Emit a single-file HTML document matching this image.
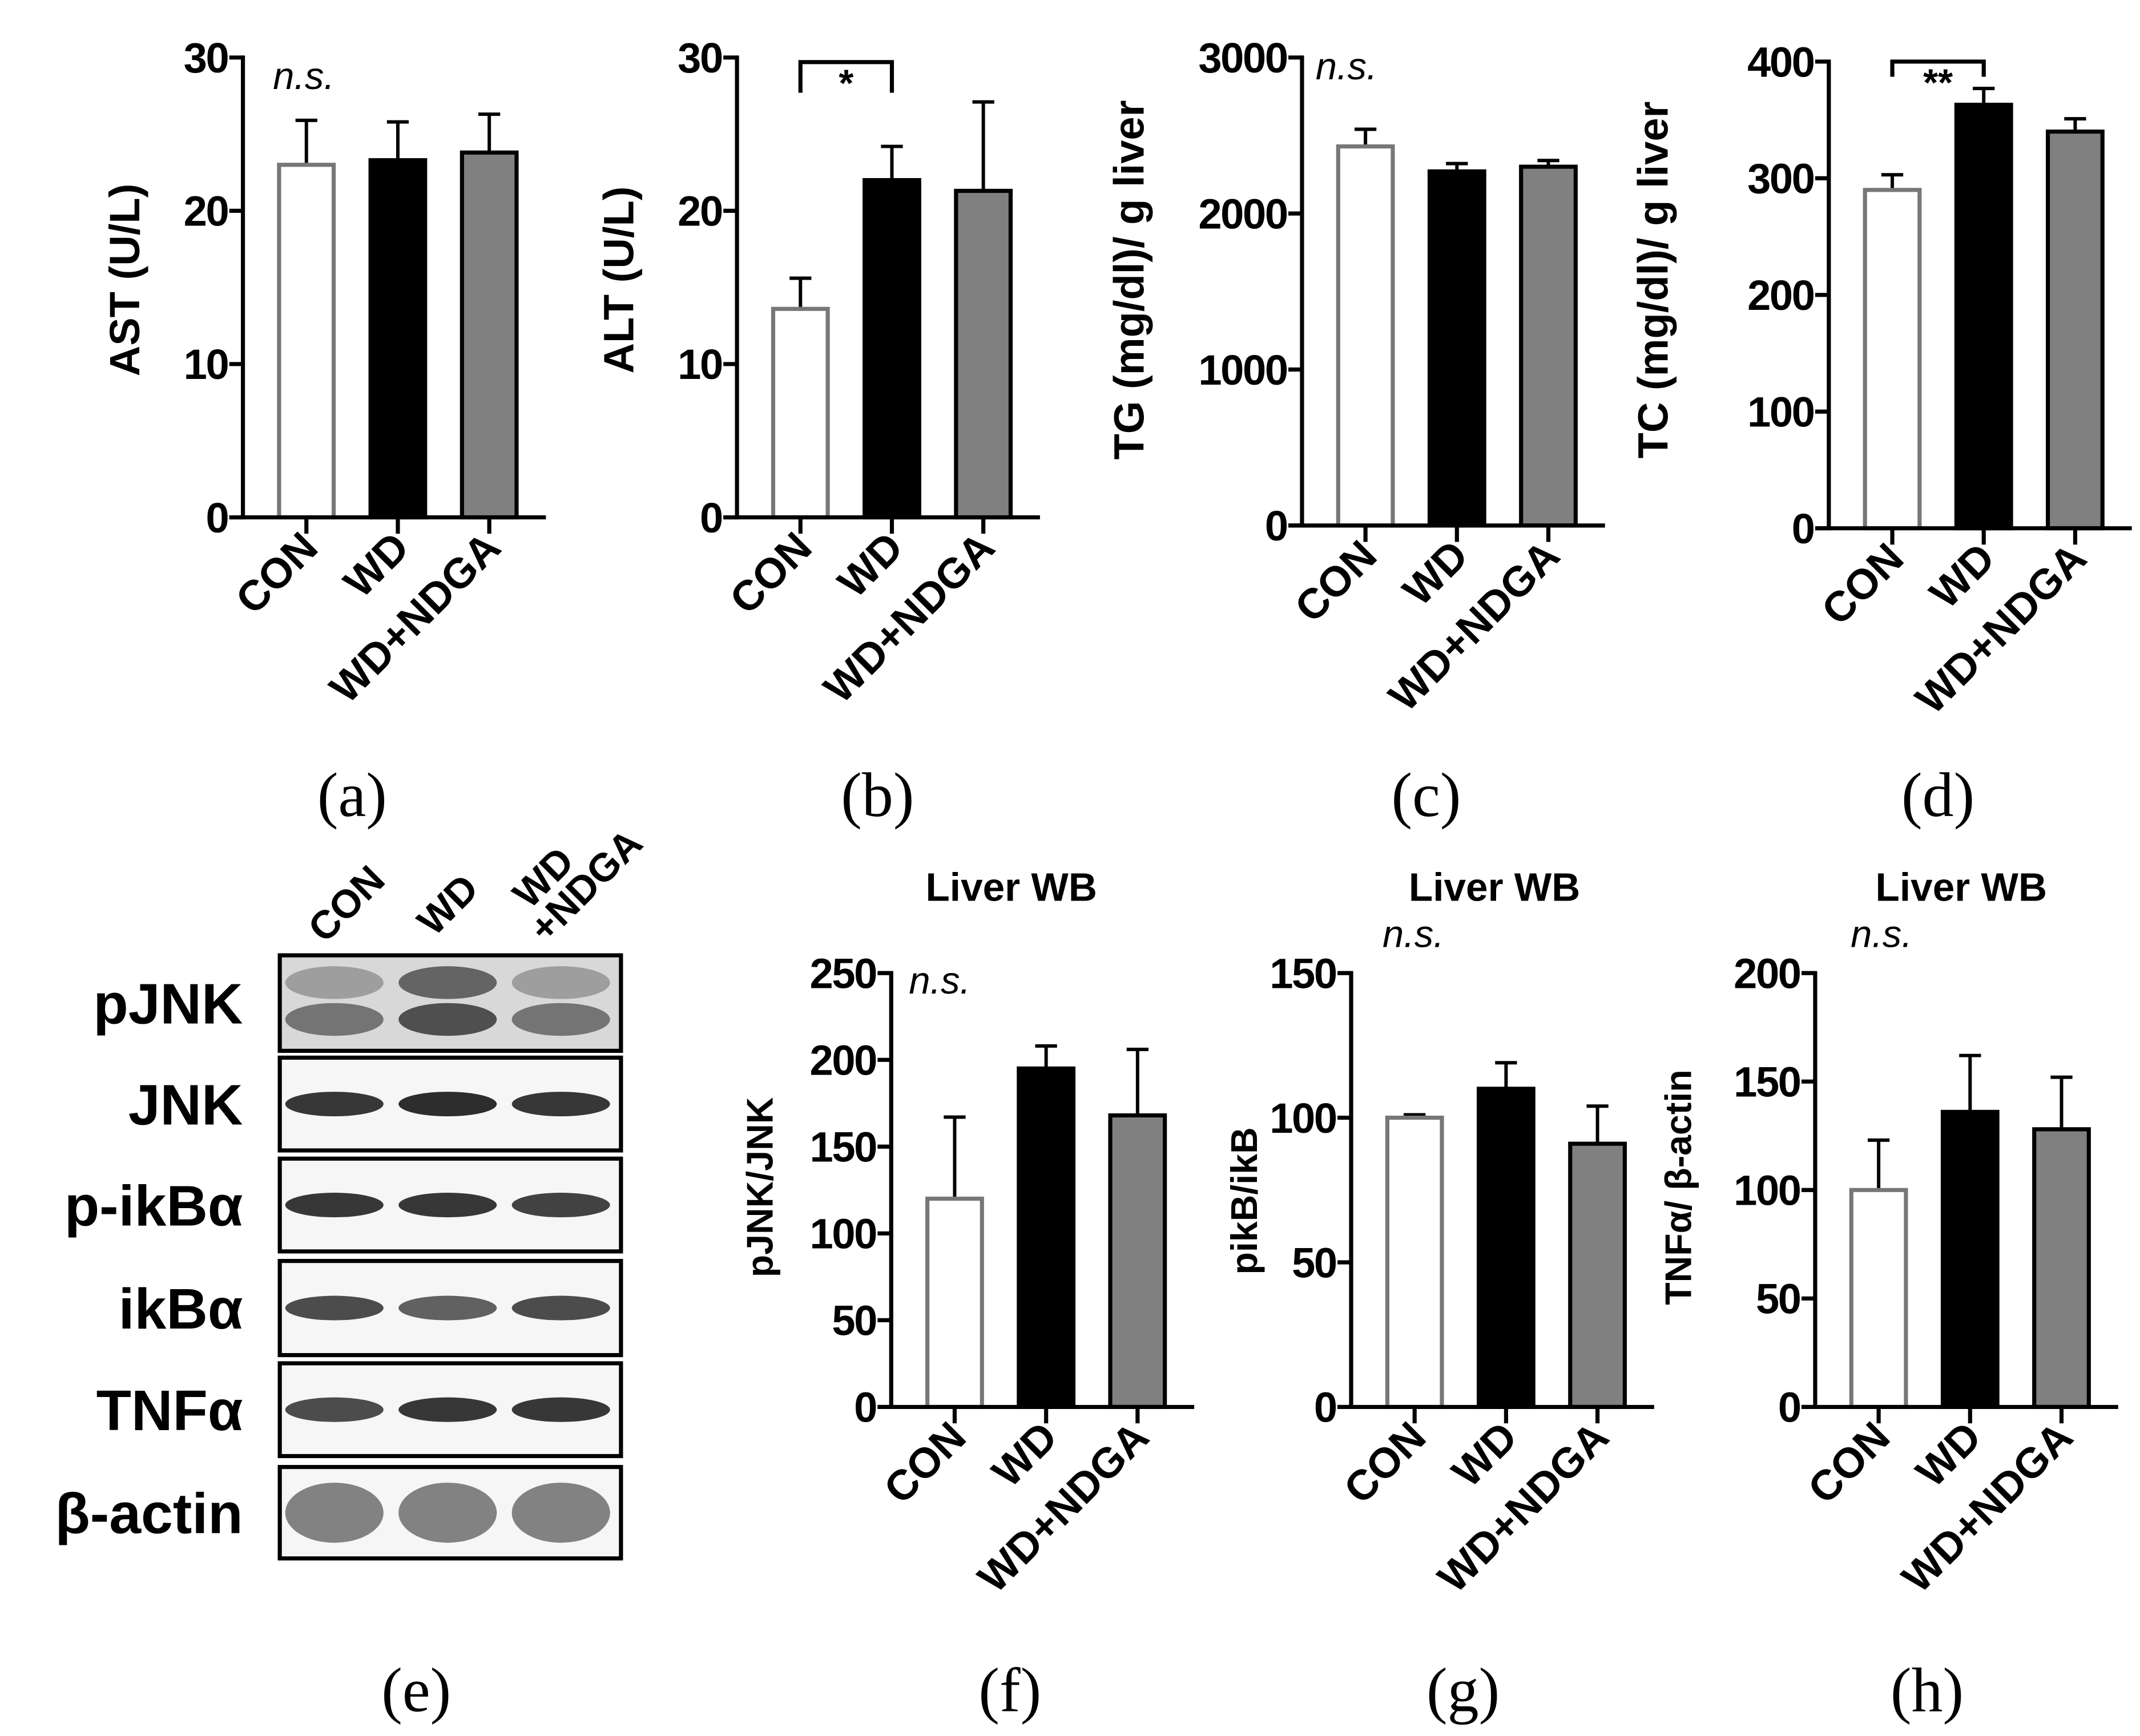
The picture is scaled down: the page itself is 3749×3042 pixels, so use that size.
<!DOCTYPE html>
<html><head><meta charset="utf-8"><style>
html,body{margin:0;padding:0;background:#fff}
svg{display:block}
text{font-family:"Liberation Sans",Arial,sans-serif}
</style></head><body>
<svg id="fig" width="3749" height="3042" viewBox="0 0 1568 1272" xmlns="http://www.w3.org/2000/svg">
<rect width="1568" height="1272" fill="#fff"/>
<g id="wb"></g>
</svg>
<script>
const categories = ["CON","WD","WD+NDGA"];
const astValues = [23, 23.3, 23.8];
const astErr = [25.9, 25.8, 26.3];
const altValues = [13.6, 22, 21.3];
const altErr = [15.6, 24.2, 27.1];
const tgValues = [2430, 2270, 2300];
const tgErr = [2540, 2320, 2340];
const tcValues = [290, 363, 340];
const tcErr = [303, 377, 351];
const pjnkValues = [120, 195, 168];
const pjnkErr = [167, 208, 206];
const pikbValues = [100, 110, 91];
const pikbErr = [101, 119, 104];
const tnfValues = [100, 136, 128];
const tnfErr = [123, 162, 152];
const astTicks = [0,10,20,30];
const altTicks = [0,10,20,30];
const tgTicks = [0,1000,2000,3000];
const tcTicks = [0,100,200,300,400];
const pjnkTicks = [0,50,100,150,200,250];
const pikbTicks = [0,50,100,150];
const tnfTicks = [0,50,100,150,200];

const NS="http://www.w3.org/2000/svg";
const svg=document.getElementById('fig');
function mk(tag,attrs,parent){const e=document.createElementNS(NS,tag);for(const k in attrs)e.setAttribute(k,attrs[k]);(parent||svg).appendChild(e);return e;}
const fills=["#fff","#000","#808080"];
const strokes=["#777","#000","#000"];

function panel(o){
  const g=mk('g',{});
  
  
  const max=o.ticks[o.ticks.length-1];
  const y=v=>o.y0-(v/max)*(o.y0-o.yTop);
  const barW=43, step=o.step||67;
  const bx=i=>o.x0+25+i*step;
  o.values.forEach((v,i)=>{
    const cx=bx(i)+barW/2;
    const eb=mk('line',{x1:cx,x2:cx,y1:y(v),y2:y(o.err[i]),stroke:'#000','stroke-width':2.5},g);
    
    
    const cap=mk('line',{x1:cx-8,x2:cx+8,y1:y(o.err[i]),y2:y(o.err[i]),stroke:'#000','stroke-width':2.5},g);
    
    
    const r=mk('rect',{x:bx(i)+1.5,y:y(v),width:barW-3,height:o.y0-y(v),fill:fills[i],stroke:strokes[i],'stroke-width':3},g);
    
    
    mk('line',{x1:cx,x2:cx,y1:o.y0,y2:o.y0+12,stroke:'#000','stroke-width':3},g);
    const t=mk('text',{x:cx+10,y:o.y0+24,'text-anchor':'end','font-size':31,'font-weight':'bold',transform:`rotate(-45 ${cx+10} ${o.y0+24})`},g);
    t.textContent=categories[i];
    
    
  });
  const ya=mk('line',{x1:o.x0,x2:o.x0,y1:o.yTop-1.5,y2:o.y0+1.5,stroke:'#000','stroke-width':3},g);
  
  
  const xa=mk('line',{x1:o.x0-10,x2:o.x0+25+2*step+barW+20,y1:o.y0,y2:o.y0,stroke:'#000','stroke-width':3},g);
  
  
  o.ticks.forEach(tv=>{
    mk('line',{x1:o.x0-10,x2:o.x0,y1:y(tv),y2:y(tv),stroke:'#000','stroke-width':3},g);
    const t=mk('text',{x:o.x0-11,y:y(tv)+11,'text-anchor':'end','font-size':31,'font-weight':'bold','letter-spacing':-1},g);
    t.textContent=tv;
    
    
  });
  const tl=mk('text',{x:o.titleX,y:o.titleY,'text-anchor':'middle','font-size':o.titleSize||31,'font-weight':'bold',transform:`rotate(-90 ${o.titleX} ${o.titleY})`},g);
  tl.innerHTML=o.title;
  
  
  if(o.ns){const n=mk('text',{x:o.ns[0],y:o.ns[1],'font-size':28,'font-style':'italic'},g);n.textContent='n.s.';
    
    }
  if(o.bracket){
    const x1=bx(0)+barW/2,x2=bx(1)+barW/2,yb=y(o.bracket[0]),yd=y(o.bracket[1]);
    const p=mk('path',{d:`M${x1} ${yd} V${yb} H${x2} V${yd}`,fill:'none',stroke:'#000','stroke-width':3},g);
    
    
    const s=mk('text',{x:(x1+x2)/2,y:yb+25,'text-anchor':'middle','font-size':28,'font-weight':'bold'},g);s.textContent=o.bracket[2];
    
    
  }
  if(o.head){const h=mk('text',{x:o.head[0],y:o.head[1],'text-anchor':'middle','font-size':29,'font-weight':'bold'},g);h.textContent='Liver WB';
    
    }
  const pl=mk('text',{x:o.label[0],y:o.label[1],'text-anchor':'middle','font-size':46,style:'font-family:"Liberation Serif",serif'},g);
  pl.textContent=o.label[2];
  
  
}

panel({name:'panel-a-ast',x0:178,yTop:42,y0:379,ticks:astTicks,values:astValues,err:astErr,title:'AST (U/L)',titleX:102,titleY:205,ns:[200,65],label:[258,598,'(a)']});
panel({name:'panel-b-alt',x0:540,yTop:42,y0:379,ticks:altTicks,values:altValues,err:altErr,title:'ALT (U/L)',titleX:464,titleY:205,bracket:[29.7,27.7,'*'],label:[643,598,'(b)']});
panel({name:'panel-c-tg',x0:954,yTop:42,y0:385,ticks:tgTicks,values:tgValues,err:tgErr,title:'TG (mg/dl)/ g liver',titleX:838,titleY:205,ns:[964,58],label:[1045,598,'(c)']});
panel({name:'panel-d-tc',x0:1340,yTop:45,y0:387,ticks:tcTicks,values:tcValues,err:tcErr,title:'TC (mg/dl)/ g liver',titleX:1222,titleY:205,bracket:[400,387,'**'],label:[1420,598,'(d)']});
panel({name:'panel-f-pjnk',x0:653,yTop:713,y0:1031,ticks:pjnkTicks,values:pjnkValues,err:pjnkErr,title:'pJNK/JNK',titleX:566,titleY:870,titleSize:27,ns:[666,728],head:[741,660],label:[740,1254,'(f)']});
panel({name:'panel-g-pikb',x0:990,yTop:713,y0:1031,ticks:pikbTicks,values:pikbValues,err:pikbErr,title:'pikB/ikB',titleX:921,titleY:880,titleSize:27,ns:[1013,694],head:[1095,660],label:[1072,1254,'(g)']});
panel({name:'panel-h-tnf',x0:1330,yTop:713,y0:1031,ticks:tnfTicks,values:tnfValues,err:tnfErr,title:'TNFα/ β-actin',titleX:1239,titleY:870,titleSize:27,ns:[1356,694],head:[1437,660],label:[1412,1254,'(h)']});

const wb=document.getElementById('wb');
const wbLabels=["pJNK","JNK","p-ikBα","ikBα","TNFα","β-actin"];
const rowsY=[[700,770],[775,843],[849,917],[924,993],[999,1067],[1075,1142]];
const bandOp=[[0.55,0.75,0.55],[0.9,0.95,0.9],[0.9,0.9,0.85],[0.8,0.7,0.8],[0.8,0.9,0.9],[0.55,0.55,0.55]];
wbLabels.forEach((lab,r)=>{
  const [a,b]=rowsY[r];
  const box=mk('rect',{x:205,y:a,width:250,height:b-a,fill:r==0?'#d8d8d8':'#f6f6f6',stroke:'#000','stroke-width':3},wb);
  
  
  [0,1,2].forEach(c=>{
    const cx=245+c*83, cy=(a+b)/2+(r==0?12:0);
    const h=r==0?12:(r==5?22:9);
    const band=mk('ellipse',{cx:cx,cy:cy,rx:36,ry:h,fill:'#222','fill-opacity':bandOp[r][c]},wb);
    
    
    if(r==0){mk('ellipse',{cx:cx,cy:a+20,rx:36,ry:12,fill:'#333','fill-opacity':c==1?0.7:0.35},wb);}
  });
  const t=mk('text',{x:178,y:(a+b)/2+15,'text-anchor':'end','font-size':42,'font-weight':'bold'},wb);
  t.textContent=lab;
  
  
});
[["CON",238,692],["WD",318,687],["WD",388,667],["+NDGA",400,692]].forEach(([s,x,y])=>{
  const t=mk('text',{x:x,y:y,'font-size':29,'font-weight':'bold',transform:`rotate(-45 ${x} ${y})`},wb);
  t.textContent=s;
  
  
});
const le=mk('text',{x:305,y:1254,'text-anchor':'middle','font-size':46,style:'font-family:"Liberation Serif",serif'},wb);
le.textContent='(e)';


</script>
</body></html>
